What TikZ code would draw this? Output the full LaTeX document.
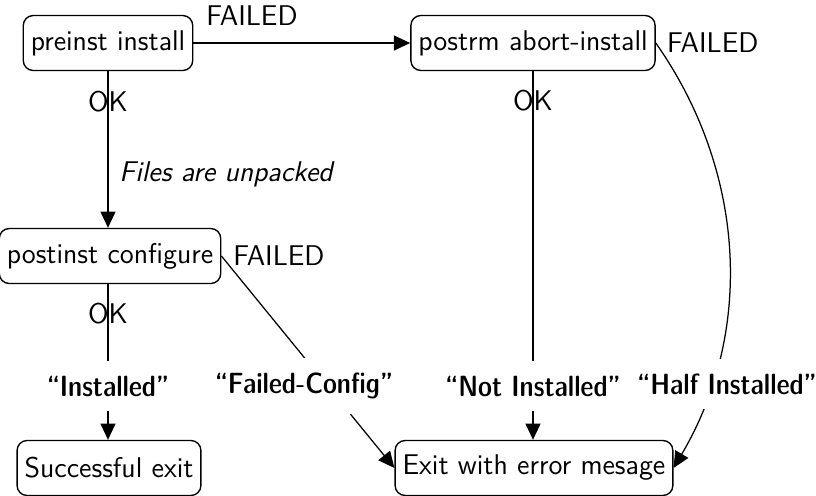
\documentclass[tikz,border=0pt]{standalone}
\usepackage{fontspec}
\newfontfamily\semicond[Extension=.otf]{lmsansdemicond10-regular}
\usetikzlibrary{arrows.meta}
\begin{document}
\begin{tikzpicture}[x=0.4pt,y=-0.4pt,font=\fontsize{11.4}{13}\sffamily,
  state/.style={draw,line width=0.55pt,rounded corners=4pt,minimum height=22pt,inner xsep=3pt},
  conn/.style={line width=0.5pt},
  arr/.style={conn,-{Triangle[length=6.5pt,width=6pt]}},
  result/.style={fill=white,font=\fontsize{11.7}{13}\semicond,inner xsep=3pt,inner ysep=6pt},
  plain/.style={inner sep=3.33pt}]
\useasboundingbox (0,0) rectangle (816,495);
% states
\node[state] (pre) at (108,43) {preinst install};
\node[state] (postrm) at (533,43) {postrm abort-install};
\node[state] (postinst) at (110,256) {postinst configure};
\node[state] (success) at (109,468) {Successful exit};
\node[state] (err) at (534,468) {Exit with error mesage};
% connectors
\draw[arr] (pre) -- node[pos=0.27,above=3.3pt] (f1) {FAILED} (postrm);
\draw[arr] (pre.south) -- node[pos=0.196] (ok1) {OK}
  node[pos=0.66,right=1pt,font=\fontsize{11.4}{13}\sffamily\itshape] (unp) {Files are unpacked} (pre.south |- postinst.north);
\draw[arr] (pre.south |- postinst.south) -- node[pos=0.19] (ok2) {OK} (pre.south |- success.north);
\draw[arr] (postrm.south) -- node[pos=0.081] (ok3) {OK} (postrm.south |- err.north);
\draw[arr] (postinst.east) -- (err.west);
\draw[arr] (postrm.east) .. controls (745,170) and (755,330) .. (err.east);
\node[plain,anchor=west] (f2) at ([xshift=1pt]postrm.east) {FAILED};
\node[plain,anchor=west] (f3) at ([xshift=1.2pt]postinst.east) {FAILED};
% result labels
\node[result] (installed) at (108,386) {“Installed”};
\node[result] (failedcfg) at (304,386) {“Failed-Config”};
\node[result] (notinst) at (533,386) {“Not Installed”};
\node[result] (halfinst) at (727,384) {“Half Installed”};
\end{tikzpicture}
\end{document}
